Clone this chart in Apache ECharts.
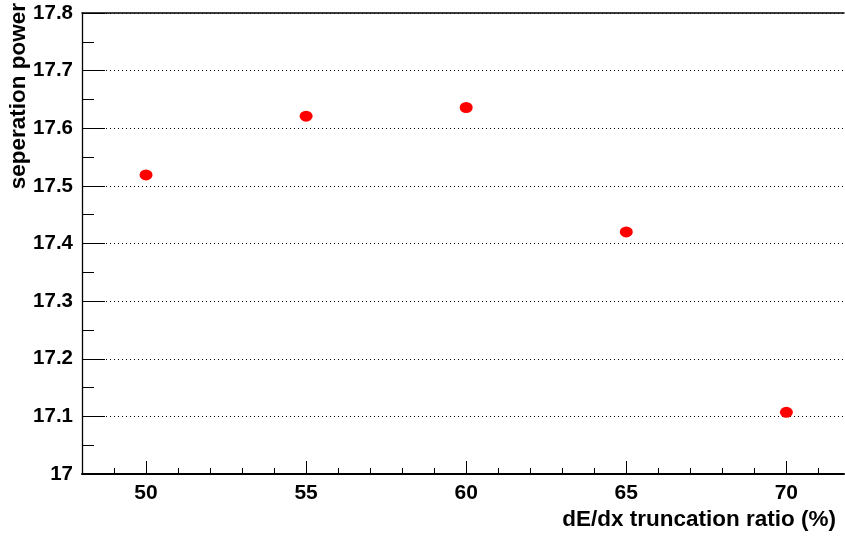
<!DOCTYPE html>
<html>
<head>
<meta charset="utf-8">
<script src="https://cdn.jsdelivr.net/npm/echarts@6/dist/echarts.min.js"></script>
<style>
  html, body { margin: 0; padding: 0; background: #ffffff; }
  #chart { width: 845px; height: 536px; }
</style>
</head>
<body>
<div id="chart"></div>
<script>
// Truncation ratio (%) and the separation power measured at each setting
const truncationRatio = [50, 55, 60, 65, 70];
const separationPower = [17.519, 17.621, 17.636, 17.420, 17.107];

// Axis ranges and ticks
const xMajorTicks = [50, 55, 60, 65, 70];
const xMinorTicks = [49, 51, 52, 53, 54, 56, 57, 58, 59, 61, 62, 63, 64, 66, 67, 68, 69, 71];
const xRange = [48, 71.8];
const yRange = [17.0, 17.8];
const yStep = 0.1;

const xTitle = 'dE/dx truncation ratio (%)';
const yTitle = 'seperation power';

const FONT = '"Liberation Sans", Arial, Helvetica, sans-serif';

const chart = echarts.init(document.getElementById('chart'), null, { renderer: 'canvas' });

const points = truncationRatio.map((x, i) => [x, separationPower[i]]);

chart.setOption({
  animation: false,
  backgroundColor: '#ffffff',
  grid: { left: 82, top: 13, width: 762, height: 461, containLabel: false },
  xAxis: [
    {
      // short ticks every unit
      type: 'value', min: xRange[0], max: xRange[1], position: 'bottom',
      axisLine: { show: true, lineStyle: { color: '#000', width: 2 } },
      axisTick: { show: true, inside: true, length: 6, customValues: xMinorTicks,
                  lineStyle: { color: '#000', width: 1 } },
      axisLabel: { show: false },
      splitLine: { show: false }
    },
    {
      // labelled long ticks
      type: 'value', min: xRange[0], max: xRange[1], position: 'bottom',
      axisLine: { show: false },
      axisTick: { show: true, inside: true, length: 13, customValues: xMajorTicks,
                  lineStyle: { color: '#000', width: 1 } },
      axisLabel: { show: true, customValues: xMajorTicks, margin: 9,
                   color: '#000', fontFamily: FONT, fontWeight: 'bold', fontSize: 21 },
      splitLine: { show: false }
    },
    {
      // top frame line
      type: 'value', min: xRange[0], max: xRange[1], position: 'top',
      axisLine: { show: true, lineStyle: { color: '#000', width: 1.5 } },
      axisTick: { show: false },
      axisLabel: { show: false },
      splitLine: { show: false }
    }
  ],
  yAxis: {
    type: 'value', min: yRange[0], max: yRange[1], interval: yStep,
    axisLine: { show: true, lineStyle: { color: '#000', width: 1.3 } },
    axisTick: { show: true, inside: true, length: 23, lineStyle: { color: '#000', width: 1 } },
    minorTick: { show: true, splitNumber: 2, length: 12, lineStyle: { color: '#000', width: 1 } },
    axisLabel: {
      show: true, margin: 9, color: '#000', fontFamily: FONT, fontWeight: 'bold', fontSize: 20.5,
      formatter: v => String(Math.round(v * 10) / 10)
    },
    splitLine: { show: true, lineStyle: { color: '#000', width: 1, type: [1, 3] } }
  },
  series: [
    {
      type: 'scatter',
      xAxisIndex: 0,
      data: points,
      symbol: 'circle',
      symbolSize: [13, 11],
      itemStyle: { color: '#ff0000', opacity: 1 },
      clip: false
    }
  ],
  graphic: [
    {
      type: 'text', x: 836, y: 520,
      style: { text: xTitle, align: 'right', verticalAlign: 'middle',
               font: 'bold 22.5px ' + FONT, fill: '#000' }
    },
    {
      type: 'text', x: 19, y: 3, rotation: Math.PI / 2,
      style: { text: yTitle, align: 'right', verticalAlign: 'middle',
               font: 'bold 22.5px ' + FONT, fill: '#000' }
    }
  ]
});
</script>
</body>
</html>
